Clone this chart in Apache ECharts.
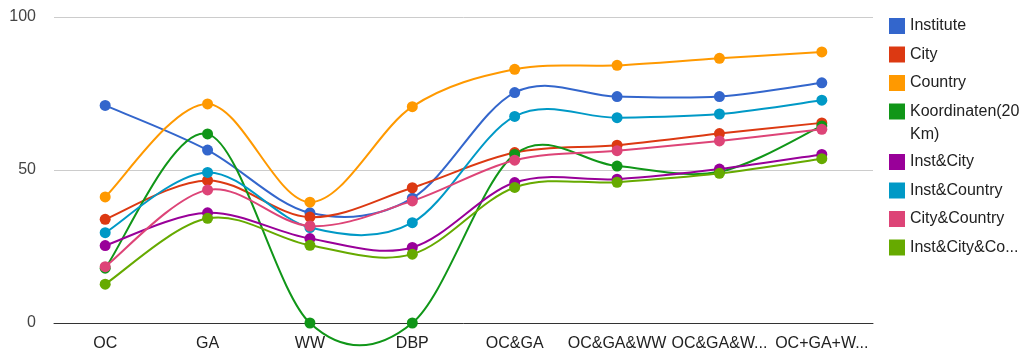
<!DOCTYPE html>
<html><head><meta charset="utf-8">
<script src="https://cdn.jsdelivr.net/npm/echarts@6/dist/echarts.min.js"></script>
<style>html,body{margin:0;padding:0;background:#fff}#c{width:1026px;height:353px}</style>
</head><body><div id="c"></div>
<script>
const categories = ['OC', 'GA', 'WW', 'DBP', 'OC&GA', 'OC&GA&WW', 'OC&GA&W...', 'OC+GA+W...'];
const institute   = [71.1, 56.5, 36.0, 40.8, 75.3, 74.0, 74.0, 78.5];
const city        = [33.9, 46.6, 34.6, 44.2, 55.7, 58.1, 61.9, 65.4];
const country     = [41.2, 71.6, 39.5, 70.7, 82.9, 84.2, 86.5, 88.6];
const koordinaten = [17.9, 61.8, 0, 0, 55.1, 51.3, 49.4, 64.4];
const instCity    = [25.3, 36.0, 27.6, 24.7, 45.9, 47.0, 50.3, 55.1];
const instCountry = [29.5, 49.2, 31.2, 32.8, 67.5, 67.1, 68.3, 72.8];
const cityCountry = [18.4, 43.5, 31.7, 39.9, 53.2, 56.3, 59.5, 63.3];
const instCityCo  = [12.7, 34.2, 25.4, 22.5, 44.3, 46.0, 48.9, 53.7];
const yTicks = [0, 50, 100];

const seriesNames = ['Institute', 'City', 'Country', 'Koordinaten(20 Km)', 'Inst&City', 'Inst&Country', 'City&Country', 'Inst&City&Co...'];
const seriesValues = [institute, city, country, koordinaten, instCity, instCountry, cityCountry, instCityCo];
const colors = ['#3366cc', '#dc3912', '#ff9900', '#109618', '#990099', '#0099c6', '#dd4477', '#66aa00'];

const FONT = '"Liberation Sans", Arial, sans-serif';

function makeRender(vals, color) {
  const n = vals.length;
  return function (params, api) {
    const i = params.dataIndex;
    if (i >= n - 1) return { type: 'group', children: [] };
    const P = k => { const j = Math.max(0, Math.min(n - 1, k)); return api.coord([j, vals[j]]); };
    const p0 = P(i - 1), p1 = P(i), p2 = P(i + 1), p3 = P(i + 2);
    return {
      type: 'bezierCurve',
      shape: {
        x1: p1[0], y1: p1[1], x2: p2[0], y2: p2[1],
        cpx1: p1[0] + (p2[0] - p0[0]) / 6, cpy1: p1[1] + (p2[1] - p0[1]) / 6,
        cpx2: p2[0] - (p3[0] - p1[0]) / 6, cpy2: p2[1] - (p3[1] - p1[1]) / 6
      },
      style: { stroke: color, lineWidth: 2, fill: null }
    };
  };
}

const series = [];
seriesNames.forEach((name, s) => {
  const vals = seriesValues[s];
  const data = vals.map((v, i) => [i, v]);
  series.push({
    type: 'custom', name: name, data: data, clip: false, silent: true,
    encode: { x: 0, y: 1 },
    itemStyle: { color: colors[s] },
    renderItem: makeRender(vals, colors[s])
  });
  series.push({
    type: 'scatter', name: name, data: data, symbol: 'circle', symbolSize: 11,
    itemStyle: { color: colors[s], opacity: 1 }, silent: true
  });
});

const legendBase = {
  orient: 'vertical', left: 889, padding: 0, icon: 'rect', itemWidth: 16, itemHeight: 16,
  itemGap: 12.5, selectedMode: false,
  textStyle: { fontSize: 16, color: '#222', fontFamily: FONT, lineHeight: 16 }
};
const legendItem = k => ({ name: seriesNames[k], itemStyle: { color: colors[k] } });

const option = {
  animation: false,
  backgroundColor: '#fff',
  color: colors,
  grid: { left: 54, right: 153, top: 17, bottom: 30, containLabel: false, outerBoundsMode: 'none' },
  legend: [
    Object.assign({}, legendBase, { top: 18, data: [0, 1, 2].map(legendItem) }),
    Object.assign({}, legendBase, {
      top: 77, data: [legendItem(3)],
      formatter: () => '\u00a0\nKoordinaten(20\nKm)',
      textStyle: { fontSize: 16, color: '#222', fontFamily: FONT, lineHeight: 23 }
    }),
    Object.assign({}, legendBase, { top: 154, data: [4, 5, 6, 7].map(legendItem) })
  ],
  xAxis: {
    type: 'category', data: categories, boundaryGap: true,
    axisLine: { show: true, lineStyle: { color: '#333', width: 1 } },
    axisTick: { show: false },
    axisLabel: { fontSize: 16, color: '#222', fontFamily: FONT, margin: 13, interval: 0 },
    splitLine: { show: false }
  },
  yAxis: {
    type: 'value', min: yTicks[0], max: yTicks[yTicks.length - 1], interval: yTicks[1] - yTicks[0],
    axisLine: { show: false }, axisTick: { show: false },
    axisLabel: { fontSize: 16, color: '#444', fontFamily: FONT, margin: 18, padding: [4, 0, 0, 0] },
    splitLine: { show: true, lineStyle: { color: '#cccccc', width: 1 } }
  },
  series: series
};

const chart = echarts.init(document.getElementById('c'), null, { renderer: 'canvas' });
chart.setOption(option);
</script>
</body></html>
